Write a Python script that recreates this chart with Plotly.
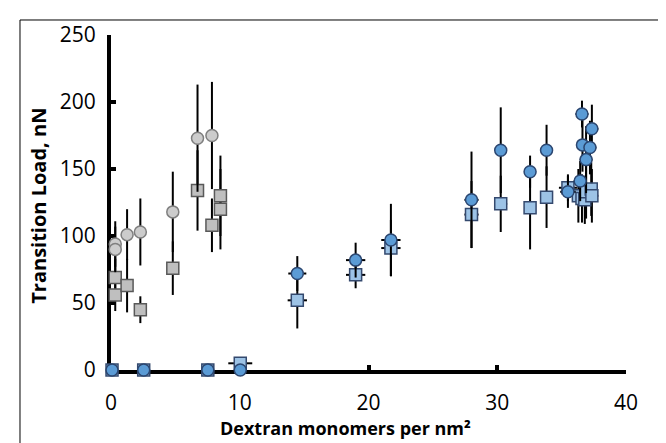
import plotly.graph_objects as go

# Grey circles (vertical error only)
gc_x = [0.33, 0.33, 1.25, 2.28, 4.8, 6.72, 7.84]
gc_y = [94, 90, 101, 103, 118, 173, 175]
gc_err = [17, 17, 19, 25, 30, 40, 40]

# Grey squares
gs_x = [0.33, 0.33, 1.25, 2.28, 4.8, 6.72, 7.84, 8.5, 8.5]
gs_y = [69, 56, 63, 45, 76, 134, 108, 130, 120]
gs_err = [14, 12, 20, 10, 20, 30, 20, 30, 30]

# Blue circles (x and y error)
bc_x = [0.08, 2.54, 7.52, 10.04, 14.47, 19.0, 21.74, 28.0, 30.27, 32.55, 33.83,
        35.49, 36.44, 36.58, 36.62, 36.9, 37.2, 37.35]
bc_y = [0, 0, 0, 0, 72, 82, 97, 127, 164, 148, 164, 133, 141, 191, 168, 157, 166, 180]
bc_yerr = [0, 0, 0, 0, 13, 13, 27, 36, 32, 12, 19, 12, 15, 10, 20, 25, 20, 18]
bc_xerr = [0, 0, 0, 0, 0.7, 0.75, 0.75, 0.55, 0.3, 0.45, 0.5, 0.6, 0.5, 0.5, 0.5, 0.5, 0.5, 0.5]

# Light blue squares
bs_x = [0.08, 2.54, 7.52, 10.04, 14.47, 19.0, 21.74, 28.0, 30.27, 32.55, 33.83,
        35.49, 36.3, 36.58, 36.8, 36.9, 37.3, 37.35]
bs_y = [0, 0, 0, 5, 52, 71, 91, 116, 124, 121, 129, 136, 130, 128, 127, 133, 135, 130]
bs_yerr = [0, 0, 0, 0, 21, 10, 21, 25, 21, 31, 23, 10, 20, 18, 18, 20, 20, 20]
bs_xerr = [0, 0, 0, 0.93, 0.75, 0.75, 0.75, 0.55, 0.5, 0.45, 0.5, 0.7, 0.5, 0.5, 0.5, 0.5, 0.5, 0.5]

x_ticks = [0, 10, 20, 30, 40]
y_ticks = [0, 50, 100, 150, 200, 250]

FONT = "Open Sans"
err_style = dict(type="data", color="black", thickness=2, width=0)

fig = go.Figure()
fig.add_trace(go.Scatter(
    x=gs_x, y=gs_y, mode="markers", cliponaxis=False,
    marker=dict(symbol="square", size=12, color="#bfbfbf", line=dict(color="#595959", width=1.5)),
    error_y=dict(array=gs_err, **err_style)))
fig.add_trace(go.Scatter(
    x=gc_x, y=gc_y, mode="markers", cliponaxis=False,
    marker=dict(symbol="circle", size=12, color="#cccccc", line=dict(color="#7f7f7f", width=1.5)),
    error_y=dict(array=gc_err, **err_style)))
fig.add_trace(go.Scatter(
    x=bs_x, y=bs_y, mode="markers", cliponaxis=False,
    marker=dict(symbol="square", size=12, color="#9dc3e6", line=dict(color="#34496e", width=1.5)),
    error_y=dict(array=bs_yerr, **err_style),
    error_x=dict(array=bs_xerr, **err_style)))
fig.add_trace(go.Scatter(
    x=bc_x, y=bc_y, mode="markers", cliponaxis=False,
    marker=dict(symbol="circle", size=12, color="#5b9bd5", line=dict(color="#2b4670", width=1.5)),
    error_y=dict(array=bc_yerr, **err_style),
    error_x=dict(array=bc_xerr, **err_style)))

axis_common = dict(showgrid=False, zeroline=False, showline=True, linecolor="black",
                   linewidth=4, ticks="inside", ticklen=5, tickwidth=4, tickcolor="black",
                   tickfont=dict(family=FONT, size=21, color="black"), layer="below traces")

fig.update_xaxes(range=[0, 40], tickvals=x_ticks, ticktext=[str(v) for v in x_ticks],
                 ticklabelstandoff=11, **axis_common)
fig.update_yaxes(range=[0, 250], tickvals=y_ticks, ticktext=[str(v) for v in y_ticks],
                 ticklabelstandoff=7, **axis_common)

fig.update_layout(
    width=666, height=443,
    margin=dict(l=103, r=48, t=27, b=81),
    paper_bgcolor="white", plot_bgcolor="white",
    showlegend=False,
    font=dict(family=FONT, color="black"),
    shapes=[dict(type="rect", xref="paper", yref="paper",
                 x0=-0.1767, x1=1.07, y0=-0.224, y1=1.0448,
                 line=dict(color="black", width=1))],
    annotations=[
        dict(text="<b>Dextran monomers per nm²</b>", xref="paper", yref="paper",
             x=0.456, y=-0.172, xanchor="center", yanchor="middle", showarrow=False,
             font=dict(family=FONT, size=18, color="black")),
        dict(text="<b>Transition Load, nN</b>", xref="paper", yref="paper",
             x=-0.14, y=0.49, xanchor="center", yanchor="middle", showarrow=False,
             textangle=-90, font=dict(family=FONT, size=20, color="black")),
    ],
)

fig.write_html("out.html")
